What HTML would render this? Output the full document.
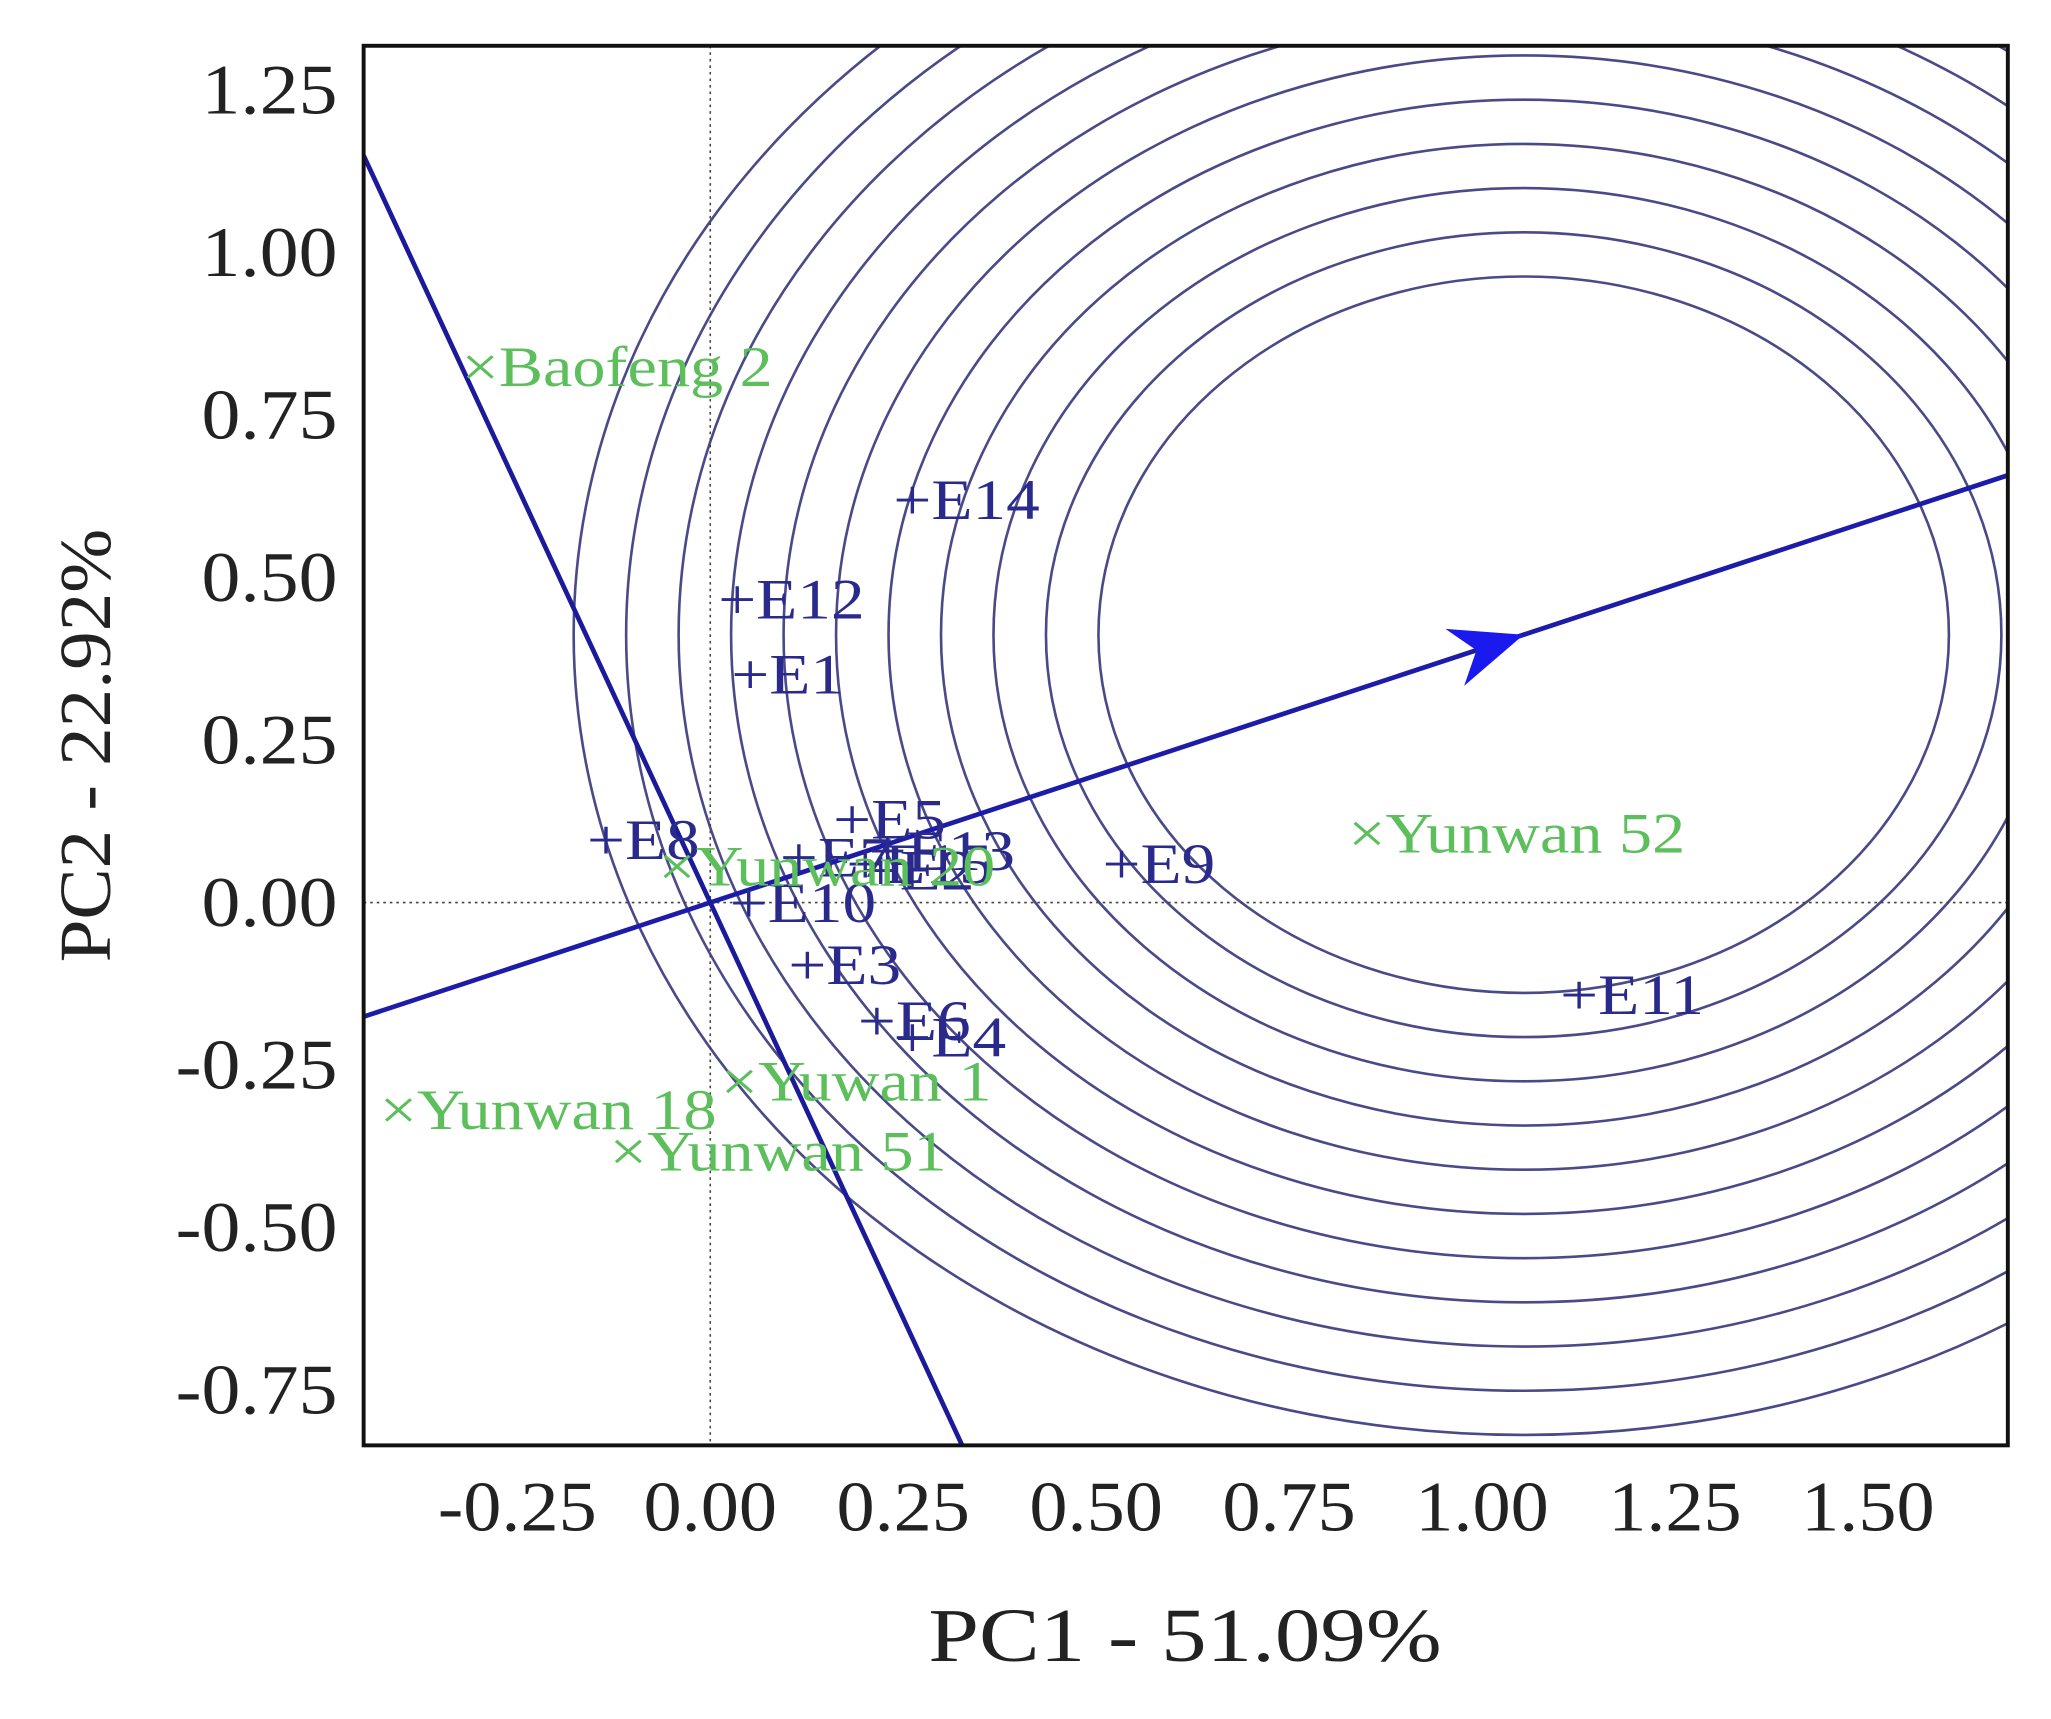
<!DOCTYPE html>
<html><head><meta charset="utf-8"><style>
html,body{margin:0;padding:0;background:#fff;}
svg{display:block;font-family:"Liberation Serif",serif;}
</style></head><body>
<svg id="chart" width="2051" height="1719" viewBox="0 0 1568 1314.2" preserveAspectRatio="none" xmlns="http://www.w3.org/2000/svg">
<defs><clipPath id="pc"><rect x="278" y="35" width="1257" height="1070"/></clipPath></defs>
<g id="plot" clip-path="url(#pc)"></g>
<g id="labels"></g>
<rect x="278" y="35" width="1257" height="1070" fill="none" stroke="#111" stroke-width="3"/>
<g id="axes"></g>
<text x="0" y="0" font-size="58" text-anchor="middle" fill="#222" transform="translate(906,1270) scale(1.2,1)">PC1 - 51.09%</text>
<text x="0" y="0" font-size="56" text-anchor="middle" fill="#222" transform="translate(84,570) rotate(-90) scale(1.05,1)">PC2 - 22.92%</text>
</svg>
<script>
const xTicks = [-0.25, 0, 0.25, 0.5, 0.75, 1.0, 1.25, 1.5];
const yTicks = [1.25, 1.0, 0.75, 0.5, 0.25, 0, -0.25, -0.5, -0.75];
const envNames = ["E14","E12","E1","E5","E8","E7","E13","E15","E2","E10","E3","E6","E4","E9","E11"];
const envX = [0.261,0.034,0.051,0.183,-0.136,0.114,0.229,0.20,0.22,0.049,0.125,0.215,0.261,0.532,1.125];
const envY = [0.620,0.467,0.352,0.129,0.097,0.07,0.080,0.06,0.05,0.0,-0.095,-0.181,-0.207,0.060,-0.141];
const genNames = ["Baofeng 2","Yunwan 52","Yunwan 18","Yuwan 1","Yunwan 51","Yunwan 20"];
const genX = [-0.302,0.847,-0.408,0.034,-0.110,-0.047];
const genY = [0.825,0.107,-0.318,-0.274,-0.382,0.056];
const ideal = [1.054, 0.412];
const ringRadii = [0.551,0.619,0.687,0.755,0.823,0.891,0.959,1.027,1.095,1.163,1.231];

const NS="http://www.w3.org/2000/svg";
const X0=543, KX=590, Y0=690, KY=497;
const sx=v=>X0+v*KX, sy=v=>Y0-v*KY;
const XMIN=(278-X0)/KX, XMAX=(1535-X0)/KX, YMIN=(Y0-1105)/KY;
function mk(tag,attrs,parent){const e=document.createElementNS(NS,tag);for(const k in attrs)e.setAttribute(k,attrs[k]);parent.appendChild(e);return e;}
const plot=document.getElementById('plot'), labels=document.getElementById('labels'), axes=document.getElementById('axes');

ringRadii.forEach(r=>{
  const e=mk('ellipse',{cx:sx(ideal[0]),cy:sy(ideal[1]),rx:r*KX,ry:r*KY,fill:'none',stroke:'#4a4a88','stroke-width':2},plot);
  
  
});
let l=mk('line',{x1:sx(0),y1:35,x2:sx(0),y2:1105,stroke:'#444','stroke-width':1.2,'stroke-dasharray':'2,3'},plot);


l=mk('line',{x1:278,y1:sy(0),x2:1535,y2:sy(0),stroke:'#444','stroke-width':1.2,'stroke-dasharray':'2,3'},plot);


const m=ideal[1]/ideal[0];
l=mk('line',{x1:sx(XMIN),y1:sy(m*XMIN),x2:sx(XMAX),y2:sy(m*XMAX),stroke:'#1c1ca8','stroke-width':3.6},plot);


const mp=-1/m;
l=mk('line',{x1:sx(XMIN),y1:sy(mp*XMIN),x2:sx(YMIN/mp),y2:sy(YMIN),stroke:'#1a1a9a','stroke-width':3.6},plot);


const ax=sx(ideal[0]), ay=sy(ideal[1]);
const ang=Math.atan2(-(ideal[1])*KY, ideal[0]*KX);
const pt=(d,a)=>[ax+d*Math.cos(ang+a), ay+d*Math.sin(ang+a)];
const p1=pt(60,2.75), p2=pt(60,-2.75), p3=pt(38,Math.PI);
const ah=mk('path',{d:`M${ax},${ay} L${p1[0]},${p1[1]} L${p3[0]},${p3[1]} L${p2[0]},${p2[1]} Z`,fill:'#1a1aee'},plot);



function stext(parent,x,y,size,sxf,anchor,fill,str){
  const t=mk('text',{x:0,y:0,'font-size':size,'text-anchor':anchor,fill:fill,transform:`translate(${x},${y}) scale(${sxf},1)`},parent);
  t.textContent=str;return t;
}
envNames.forEach((n,i)=>{
  const t=stext(labels,sx(envX[i])-14,sy(envY[i])+15,44,1.17,'start','#2a2a8c','+'+n);
  
  
});
genNames.forEach((n,i)=>{
  const t=stext(labels,sx(genX[i])-12,sy(genY[i])+15,44,1.15,'start','#5cbf5c','\u00d7'+n);
  
  
});
xTicks.forEach(v=>{
  const t=stext(axes,sx(v),1170,54,1.08,'middle','#222',v.toFixed(2));
  
  
});
yTicks.forEach(v=>{
  const t=stext(axes,258,sy(v)+18,54,1.1,'end','#222',v.toFixed(2));
  
  
});
</script>
</body></html>
